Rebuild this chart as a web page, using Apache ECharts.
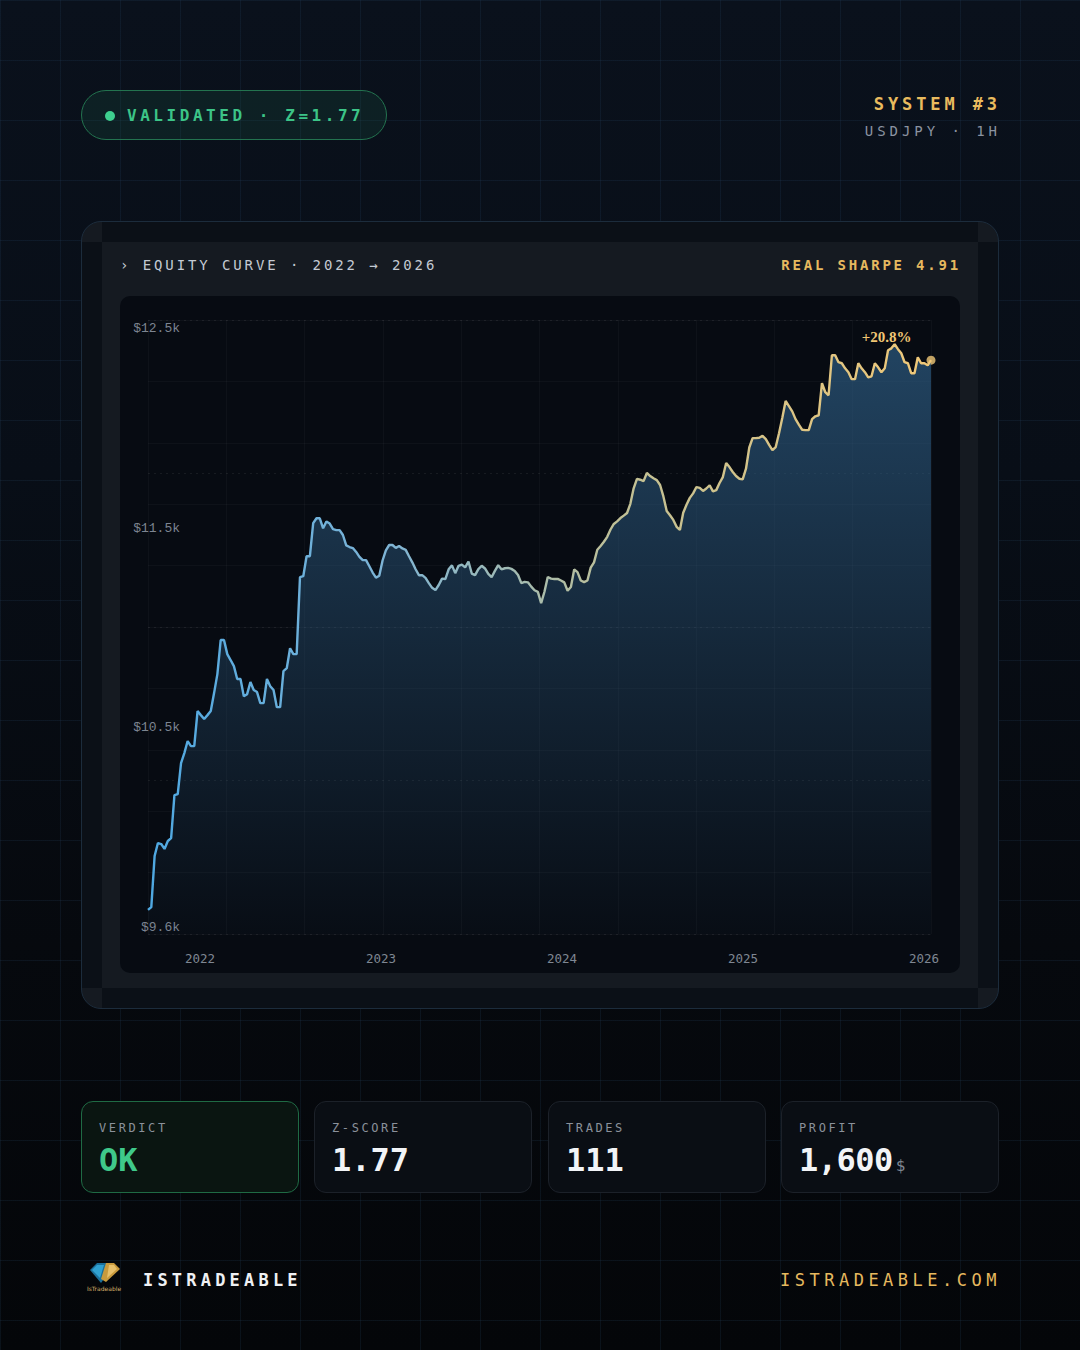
<!DOCTYPE html>
<html>
<head>
<meta charset="utf-8">
<script src="https://cdn.jsdelivr.net/npm/echarts@6/dist/echarts.min.js"></script>
<style>
html,body{margin:0;padding:0;}
body{width:1080px;height:1350px;position:relative;overflow:hidden;
  background:linear-gradient(180deg,#0a111c 0%,#080e17 35%,#06090e 70%,#040609 100%);
  font-family:'DejaVu Sans Mono',monospace;}
.gridbg{position:absolute;left:0;top:0;width:1080px;height:1350px;
  background-image:linear-gradient(rgba(45,80,115,0.17) 1px,transparent 1px),linear-gradient(90deg,rgba(45,80,115,0.17) 1px,transparent 1px);
  background-size:60px 60px;}
.abs{position:absolute;white-space:nowrap;}
.badge{left:81px;top:90px;width:306px;height:50px;box-sizing:border-box;border:1px solid #23734f;border-radius:25px;background:rgba(28,90,70,0.22);}
.dot{left:105px;top:111px;width:10px;height:10px;border-radius:50%;background:#3ecf8e;}
.badgeText{left:127px;top:104px;line-height:24px;font-size:16px;font-weight:bold;letter-spacing:3.55px;color:#3cc487;}
.sys{right:79px;top:92px;line-height:24px;font-size:17px;font-weight:bold;letter-spacing:3.9px;color:#e9bb5e;}
.pair{right:79px;top:120px;line-height:22px;font-size:14px;letter-spacing:3.95px;color:#8b93a1;}
.card{left:81px;top:221px;width:918px;height:788px;box-sizing:border-box;border:1px solid #1c2c3c;border-radius:20px;background:#151a21;overflow:hidden;}
.strip{background:#0b1017;}
.hdr{left:120px;top:254px;line-height:22px;font-size:14px;letter-spacing:2.9px;color:#c4cad3;}
.sharpe{right:119px;top:254px;line-height:22px;font-size:14px;font-weight:bold;letter-spacing:2.8px;color:#e6b95f;}
.plot{left:120px;top:296px;width:840px;height:677px;border-radius:10px;background:#070b12;}
#chart{position:absolute;left:120px;top:296px;width:840px;height:677px;}
.stat{top:1101px;width:218px;height:92px;box-sizing:border-box;border-radius:12px;border:1px solid #1c2129;background:#0a0e14;}
.stat.ok{border-color:#1f6a44;background:#0a1511;}
.slabel{top:1119px;line-height:18px;font-size:12px;letter-spacing:2.6px;color:#8b919b;}
.sval{top:1141px;line-height:38px;font-size:32px;font-weight:bold;color:#f2f4f7;}
.brand{left:143px;top:1268px;line-height:24px;font-size:17px;font-weight:bold;letter-spacing:4.2px;color:#eef0f3;}
.site{right:79px;top:1268px;line-height:24px;font-size:17px;letter-spacing:4.5px;color:#e6b95f;}
</style>
</head>
<body>
<div class="gridbg"></div>

<div class="abs badge"></div>
<div class="abs dot"></div>
<div class="abs badgeText">VALIDATED · Z=1.77</div>
<div class="abs sys">SYSTEM #3</div>
<div class="abs pair">USDJPY · 1H</div>

<div class="abs card"></div>
<div class="abs strip" style="left:102px;top:222px;width:876px;height:20px;"></div>
<div class="abs strip" style="left:102px;top:988px;width:876px;height:20px;"></div>
<div class="abs strip" style="left:82px;top:242px;width:20px;height:746px;"></div>
<div class="abs strip" style="left:978px;top:242px;width:20px;height:746px;"></div>
<div class="abs hdr">› EQUITY CURVE · 2022 → 2026</div>
<div class="abs sharpe">REAL SHARPE 4.91</div>
<div class="abs plot"></div>
<div id="chart"></div>

<div class="abs stat ok" style="left:81px;"></div>
<div class="abs stat" style="left:314px;"></div>
<div class="abs stat" style="left:548px;"></div>
<div class="abs stat" style="left:781px;"></div>
<div class="abs slabel" style="left:99px;">VERDICT</div>
<div class="abs slabel" style="left:332px;">Z-SCORE</div>
<div class="abs slabel" style="left:566px;">TRADES</div>
<div class="abs slabel" style="left:799px;">PROFIT</div>
<div class="abs sval" style="left:99px;color:#3fc98a;">OK</div>
<div class="abs sval" style="left:332px;">1.77</div>
<div class="abs sval" style="left:566px;">111</div>
<div class="abs sval" style="left:799px;letter-spacing:-0.5px;">1,600<span style="font-size:16px;font-weight:normal;color:#7d8591;margin-left:3px;letter-spacing:0;">$</span></div>

<svg class="abs" style="left:84px;top:1258px;" width="40" height="36" viewBox="0 0 40 36">
  <polygon points="6,12 13,5 24,5 28,10 17,25" fill="#1b6f9a"/>
  <polygon points="8,12 13,7 20,7 16,20" fill="#39b6e8" opacity="0.7"/>
  <polygon points="22,5 30,5 36,11 22,24 17,21" fill="#c99a3c"/>
  <polygon points="25,7 30,7 33,11 23,20" fill="#e8c06a"/>
  <text x="20" y="33" font-size="6" fill="#d9b36a" text-anchor="middle" font-family="DejaVu Sans">IsTradeable</text>
</svg>
<div class="abs brand">ISTRADEABLE</div>
<div class="abs site">ISTRADEABLE.COM</div>

<script>
// ---- data ----
const yearTicks = [2022, 2023, 2024, 2025, 2026];
const xYearStart = 2021.713;
const xYearEnd = 2026.039;
const yLabelValues = [9560, 10540, 11520, 12500];
const yMin = 9530;
const yMax = 12540;
const peakLabel = '+20.8%';
const equity = [
  // 2021 Q4 - 2022
  9648, 9662, 9912, 9976, 9971, 9947, 9986, 10000, 10211, 10216,
  10368, 10417, 10476, 10451, 10451, 10623, 10603, 10584, 10603, 10623,
  10711, 10804, 10971, 10971, 10902, 10873, 10843, 10780, 10780, 10696,
  10706, 10765, 10726, 10716, 10662, 10662, 10780, 10745, 10726, 10642,
  10642, 10819, 10833, 10931, 10902, 10902, 11279, 11284, 11382, 11382,
  11544, 11568, 11568,
  // 2023 - 2025
  11519, 11552, 11542, 11515, 11510, 11510, 11486, 11435, 11427, 11422,
  11403, 11379, 11363, 11363, 11333, 11302, 11277, 11286, 11361, 11411,
  11437, 11437, 11423, 11432, 11420, 11413, 11382, 11352, 11318, 11289,
  11289, 11276, 11250, 11227, 11216, 11241, 11272, 11270, 11318, 11337,
  11299, 11335, 11341, 11327, 11356, 11297, 11289, 11319, 11335, 11322,
  11295, 11279, 11310, 11338, 11318, 11323, 11325, 11320, 11310, 11290,
  11250, 11256, 11254, 11233, 11215, 11207, 11152, 11208, 11280, 11272,
  11270, 11271, 11263, 11254, 11213, 11231, 11317, 11304, 11263, 11255,
  11263, 11326, 11352, 11414, 11432, 11453, 11477, 11513, 11540, 11553,
  11569, 11581, 11594, 11639, 11715, 11761, 11757, 11750, 11790, 11775,
  11764, 11755, 11731, 11675, 11604, 11583, 11560, 11526, 11511, 11595,
  11634, 11668, 11690, 11721, 11717, 11702, 11714, 11730, 11700, 11706,
  11741, 11770, 11839, 11819, 11795, 11775, 11762, 11759, 11811, 11915,
  11961, 11961, 11963, 11972, 11956, 11928, 11902, 11917, 11985, 12061,
  12143, 12118, 12092, 12054, 12027, 12002, 12000, 12000,
  // late 2025
  12054, 12068, 12073, 12230, 12186, 12171, 12367, 12367, 12333, 12328,
  12303, 12284, 12250, 12250, 12328, 12303, 12284, 12259, 12264, 12328,
  12308, 12284, 12303, 12392, 12401, 12421, 12397, 12377, 12333, 12328,
  12279, 12279, 12357, 12328, 12328, 12318, 12343
];

// ---- chart ----
const N = equity.length;
const seriesData = equity.map((v, i) => [i, v]);
const chart = echarts.init(document.getElementById('chart'), null, {renderer: 'svg'});
const gold = '#f0c878';
const faint = 'rgba(255,255,255,0.032)';
const option = {
  animation: false,
  backgroundColor: 'transparent',
  grid: {left: 28, right: 29, top: 24, bottom: 39, containLabel: false},
  xAxis: [
    {type: 'value', min: 0, max: N - 1, show: false},
    {type: 'value', min: xYearStart, max: xYearEnd, position: 'bottom',
      axisLine: {show: false}, axisTick: {show: false}, splitLine: {show: false},
      axisLabel: {customValues: yearTicks, formatter: v => String(Math.round(v)),
        color: '#7f8793', fontFamily: 'DejaVu Sans Mono', fontSize: 12.5, margin: 18}},
    {type: 'value', min: 0, max: 10, interval: 1, position: 'top',
      axisLine: {show: false}, axisTick: {show: false}, axisLabel: {show: false},
      splitLine: {show: true, lineStyle: {color: faint, width: 1}}}
  ],
  yAxis: [
    {type: 'value', min: yMin, max: yMax, position: 'left',
      axisLine: {show: false}, axisTick: {show: false}, splitLine: {show: false},
      axisLabel: {customValues: yLabelValues, formatter: v => '$' + (v / 1000).toFixed(1) + 'k',
        color: '#7d8591', fontFamily: 'Liberation Mono', fontSize: 13, margin: -32}},
    {type: 'value', min: 0, max: 10, interval: 1, position: 'right',
      axisLine: {show: false}, axisTick: {show: false}, axisLabel: {show: false},
      splitLine: {show: true, lineStyle: {color: faint, width: 1}}},
    {type: 'value', min: 0, max: 4, interval: 1, position: 'right',
      axisLine: {show: false}, axisTick: {show: false}, axisLabel: {show: false},
      splitLine: {show: true, lineStyle: {color: 'rgba(255,255,255,0.065)', width: 1, type: [2, 4]}}}
  ],
  series: [
    {
      type: 'line', xAxisIndex: 0, yAxisIndex: 0, data: seriesData,
      symbol: 'none', smooth: false,
      lineStyle: {width: 2.4, color: new echarts.graphic.LinearGradient(0, 0, 1, 0, [
        {offset: 0, color: '#4ea8e2'}, {offset: 0.3, color: '#7db4d6'},
        {offset: 0.6, color: '#c0c096'}, {offset: 1, color: gold}])},
      areaStyle: {color: new echarts.graphic.LinearGradient(0, 0, 0, 1, [
        {offset: 0, color: 'rgba(46,94,134,0.97)'}, {offset: 1, color: 'rgba(46,92,130,0.04)'}])},
      markPoint: {
        symbol: 'circle', symbolSize: 1, itemStyle: {color: 'rgba(0,0,0,0)'},
        data: [{type: 'max'}],
        label: {show: true, position: 'inside', offset: [-8, -7], formatter: peakLabel,
          color: '#f0c674', fontFamily: 'Liberation Serif', fontWeight: 'bold', fontSize: 15}
      }
    },
    {
      type: 'scatter', xAxisIndex: 0, yAxisIndex: 0,
      data: [[N - 1, equity[N - 1]]], symbolSize: 9,
      itemStyle: {color: gold}
    }
  ]
};
chart.setOption(option);
</script>
</body>
</html>
